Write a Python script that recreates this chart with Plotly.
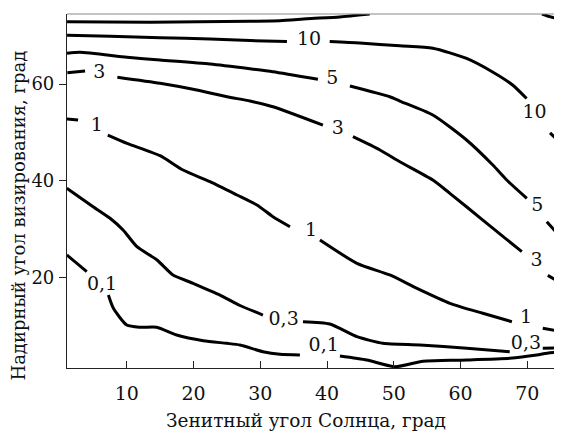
import plotly.graph_objects as go

# Contour lines (None = gap where the label sits)
top_x = [1.06, 13.5, 28.5, 32.95, 37.0, 41.9, 46.4, None, 72.2, 73.5, 75.2]
top_y = [72.9, 72.8, 73.0, 73.1, 73.5, 73.9, 74.5, None, 74.5, 73.9, 73.3]

c10_x = [1.06, 7.5, 15.0, 22.5, 28.5, 34.0, None, 40.4, 44.9, 50.9, 55.85, 60.9, 64.8, 67.8, 69.9, None, 73.4, 75.2]
c10_y = [70.1, 69.9, 69.6, 69.3, 69.0, 68.8, None, 68.8, 68.5, 67.9, 67.4, 65.3, 62.5, 59.8, 57.0, None, 49.9, 47.5]

c5_x = [1.06, 3.01, 10.04, 14.99, 22.47, 28.46, 31.9, 38.64, None, 43.43, 49.4, 50.9, 55.85, 60.9, 64.84, 66.93, 69.93, None, 72.92, 75.16]
c5_y = [66.36, 66.56, 65.53, 64.97, 64.14, 63.17, 62.55, 60.97, None, 59.59, 57.37, 56.48, 53.58, 48.41, 43.23, 40.12, 36.34, None, 31.49, 28.05]

c3_x = [1.1, 3.76, None, 8.59, 14.99, 19.93, 25.01, 28.46, 31.9, 39.39, None, 43.88, 47.93, 50.9, 55.85, 58.4, 63.34, 69.18, None, 73.07, 75.16]
c3_y = [62.34, 62.69, None, 61.39, 60.14, 58.9, 57.37, 56.48, 55.30, 51.49, None, 49.09, 46.35, 43.91, 40.12, 37.37, 31.83, 25.28, None, 20.37, 18.74]

c1_x = [1.02, 2.71, None, 7.16, 10.04, 14.99, 18.43, 22.47, 26.51, 29.5, 31.9, 34.45, None, 38.94, 44.48, 49.4, 53.46, 58.4, 63.34, 67.69, None, 72.32, 75.16]
c1_y = [52.75, 52.55, None, 49.44, 47.72, 45.16, 42.19, 39.77, 37.02, 34.95, 32.53, 30.46, None, 27.7, 22.88, 20.46, 17.70, 14.6, 12.53, 10.79, None, 9.42, 8.72]

c03_x = [1.02, 4.96, 7.5, 9.45, 11.53, 14.53, 16.93, 19.93, 23.97, 26.96, 30.4, None, 36.4, 40.43, 44.48, 48.37, 53.91, 60.94, 67.37, None, 72.32, 75.16]
c03_y = [38.41, 34.6, 32.2, 29.77, 26.31, 23.56, 20.46, 18.74, 16.31, 14.14, 12.17, None, 10.79, 10.31, 7.68, 6.31, 5.96, 5.28, 4.58, None, 5.28, 5.4]

c01_x = [1.02, 4.01, None, 7.25, 8.0, 10.0, 11.99, 14.49, 17.48, 21.47, 24.97, 26.96, 30.4, 32.95, 35.94, None, 41.93, 45.97, 50.16, 53.91, 54.96, 60.94, 67.37, 71.41, 73.37, 75.16]
c01_y = [24.6, 21.14, None, 16.31, 13.56, 10.1, 9.63, 9.63, 8.03, 6.85, 6.31, 5.96, 4.58, 4.04, 3.89, None, 3.69, 2.86, 1.47, 2.51, 2.65, 2.86, 3.21, 3.89, 4.37, 4.37]

# Contour labels
label_text = ["10", "10", "5", "5", "3", "3", "3", "1", "1", "1", "0,3", "0,3", "0,1", "0,1"]
label_x = [37.3, 71.1, 40.8, 71.5, 5.9, 41.6, 71.4, 5.5, 37.6, 69.8, 33.5, 69.8, 6.3, 39.5]
label_y = [69.1, 54.0, 60.9, 34.6, 62.3, 50.6, 23.3, 51.2, 29.6, 11.6, 11.1, 6.1, 18.4, 5.7]

x_ticks = [10, 20, 30, 40, 50, 60, 70]
y_ticks = [20, 40, 60]

x_title = "Зенитный угол Солнца, град"
y_title = "Надирный угол визирования, град"

FONT = "DejaVu Serif"
FS = 19
fig = go.Figure()
for xs, ys in [(top_x, top_y), (c10_x, c10_y), (c5_x, c5_y), (c3_x, c3_y),
               (c1_x, c1_y), (c03_x, c03_y), (c01_x, c01_y)]:
    fig.add_trace(go.Scatter(x=xs, y=ys, mode="lines", connectgaps=False,
                             line=dict(color="black", width=3, shape="spline", smoothing=0.6),
                             hoverinfo="skip", showlegend=False))

fig.add_trace(go.Scatter(x=label_x, y=label_y, mode="text", text=label_text,
                         textfont=dict(family=FONT, size=FS, color="#111"),
                         textposition="middle center", showlegend=False, hoverinfo="skip"))

# page body has an 8px default margin, so the figure is offset by 8px
fig.update_layout(
    width=554, height=424,
    margin=dict(l=59, r=0, t=6, b=64),
    paper_bgcolor="white", plot_bgcolor="white",
    font=dict(family=FONT, size=FS, color="#111"),
    xaxis=dict(range=[1.05, 75.2], tickvals=x_ticks, ticks="inside", ticklen=7,
               tickcolor="#222", tickwidth=1, showline=True, linecolor="#222", linewidth=1.2,
               showgrid=False, zeroline=False, ticklabelstandoff=8),
    yaxis=dict(range=[1.2, 74.5], tickvals=y_ticks, ticks="outside", ticklen=7,
               tickcolor="#222", tickwidth=1, showline=True, linecolor="#222", linewidth=1.2,
               showgrid=False, zeroline=False, ticklabelstandoff=1,
               tickfont=dict(family=FONT, size=18)),
    shapes=[dict(type="line", xref="paper", yref="paper", x0=0, x1=1, y0=1, y1=1,
                 line=dict(color="#888", width=1))],
    annotations=[
        dict(text=x_title, xref="paper", yref="paper", x=0.483, y=-0.147,
             xanchor="center", yanchor="middle", showarrow=False,
             font=dict(family=FONT, size=18.5, color="#111")),
        dict(text=y_title, xref="paper", yref="paper", x=-0.098, y=0.432,
             xanchor="center", yanchor="middle", showarrow=False, textangle=-90,
             font=dict(family=FONT, size=18, color="#111")),
    ],
)

fig.write_html("out.html")
